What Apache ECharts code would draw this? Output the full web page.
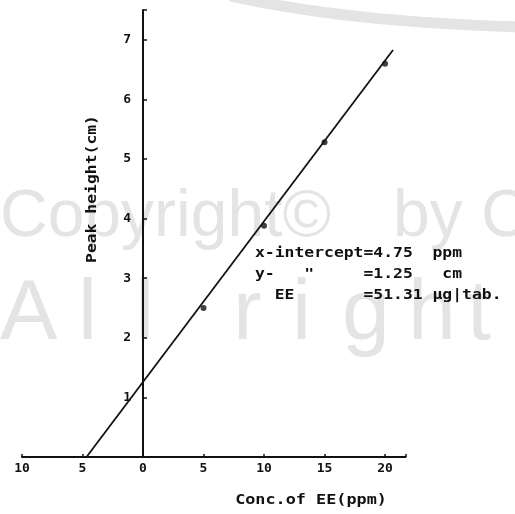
<!DOCTYPE html>
<html>
<head>
<meta charset="utf-8">
<script src="https://cdn.jsdelivr.net/npm/echarts@6/dist/echarts.min.js"></script>
<style>
  html, body { margin: 0; padding: 0; background: #fff; }
  #chart { width: 515px; height: 514px; }
</style>
</head>
<body>
<div id="chart"></div>
<script>
// measured points
var concs = [5, 10, 15, 20];
var heights = [2.5, 3.88, 5.28, 6.6];

// fitted line, drawn from the x-intercept up past the last point
var fitX = [-4.67, 20.66];
var fitY = [0, 6.83];

// texts
var xTitle = 'Conc.of EE(ppm)';
var yTitle = 'Peak height(cm)';
var noteLines = [
    'x-intercept=4.75  ppm',
    'y-   "     =1.25   cm',
    '  EE       =51.31 \u00b5g|tab.'
];

var mono = 'DejaVu Sans Mono';
var ink = '#111';
var wm = '#e4e4e4';

var chart = echarts.init(document.getElementById('chart'));

// y is the middle of the capitals
function wmText(txt, x, y, size) {
    return {
        type: 'text', x: x, y: y, z: -10, silent: true,
        style: { text: txt, fill: wm, font: size + 'px "Liberation Sans"', verticalAlign: 'middle' }
    };
}

// faint watermark of the scanned page
var wmEls = [
    {
        type: 'bezierCurve', z: -10, silent: true,
        shape: { x1: 230, y1: -4, x2: 520, y2: 27, cpx1: 330, cpy1: 18, cpx2: 430, cpy2: 24 },
        style: { stroke: wm, lineWidth: 11, fill: null }
    },
    wmText('Copyright\u00a9', 0, 218, 66),
    wmText('by C', 393, 218, 66)
];
var rowLetters = ['A', 'l', 'l', 'r', 'i', 'g', 'h', 't'];
var rowX = [0, 78, 135, 233, 292, 342, 408, 467];
rowLetters.forEach(function (c, i) {
    wmEls.push(wmText(c, rowX[i], 315, 86));
});

var textFont = 'bold 14px "' + mono + '"';

chart.setOption({
    backgroundColor: '#fff',
    animation: false,
    grid: { left: 22, top: 10, width: 383.6, height: 447 },
    xAxis: {
        type: 'value',
        min: -10,
        max: 21.7,
        interval: 5,
        splitLine: { show: false },
        axisLine: { lineStyle: { color: ink, width: 2 } },
        axisTick: { inside: true, length: 3, lineStyle: { color: ink, width: 1.5 } },
        axisLabel: {
            color: ink, fontFamily: mono, fontWeight: 'bold', fontSize: 13, margin: 5,
            formatter: function (v) { return v % 5 === 0 ? String(Math.abs(v)) : ''; }
        }
    },
    yAxis: {
        type: 'value',
        min: 0,
        max: 7.5,
        interval: 1,
        // put the axis at x = 0 of the x axis
        offset: -121,
        splitLine: { show: false },
        axisLine: { onZero: false, lineStyle: { color: ink, width: 2 } },
        axisTick: { inside: true, length: 4, lineStyle: { color: ink, width: 1.5 } },
        axisLabel: {
            color: ink, fontFamily: mono, fontWeight: 'bold', fontSize: 13, margin: 12,
            formatter: function (v) { return (v > 0 && v % 1 === 0) ? String(v) : ''; }
        }
    },
    series: [
        {
            type: 'line',
            data: fitX.map(function (x, i) { return [x, fitY[i]]; }),
            symbol: 'none',
            lineStyle: { color: ink, width: 1.8 },
            z: 3
        },
        {
            type: 'scatter',
            data: concs.map(function (x, i) { return [x, heights[i]]; }),
            symbolSize: 6,
            itemStyle: { color: ink },
            z: 4
        }
    ],
    graphic: { elements: wmEls.concat([
        {
            type: 'text', x: 255, y: 243, scaleX: 1.17, z: 100,
            style: { text: noteLines.join('\n'), fill: ink, font: textFont, lineHeight: 21, verticalAlign: 'top' }
        },
        {
            type: 'text', x: 311, y: 500, scaleX: 1.2, z: 100,
            style: { text: xTitle, fill: ink, font: textFont, align: 'center', verticalAlign: 'middle' }
        },
        {
            type: 'text', x: 92, y: 189, rotation: Math.PI / 2, scaleX: 1.17, z: 100,
            style: { text: yTitle, fill: ink, font: textFont, align: 'center', verticalAlign: 'middle' }
        }
    ]) }
});
</script>
</body>
</html>
